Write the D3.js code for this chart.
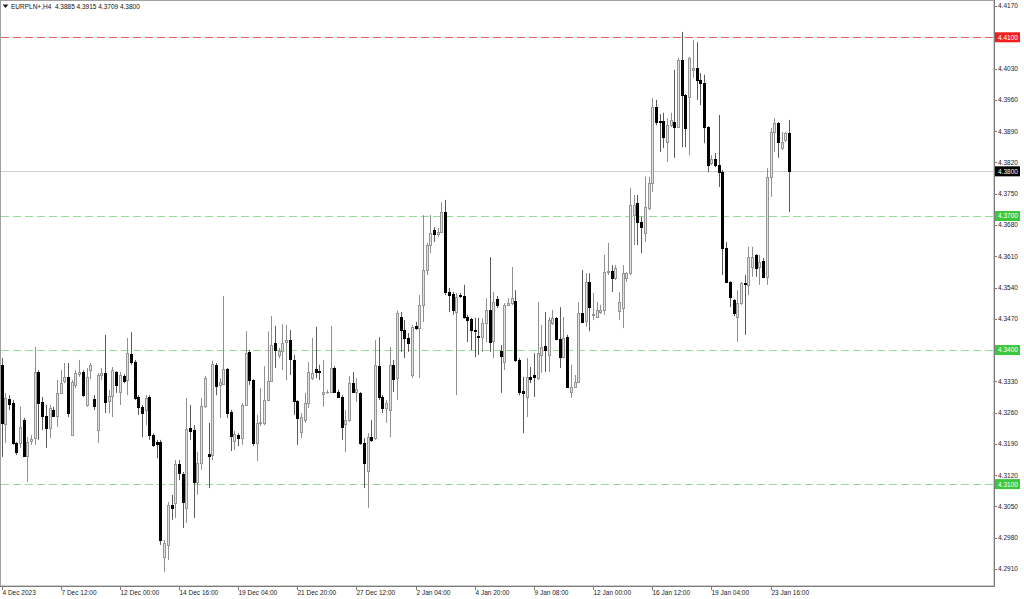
<!DOCTYPE html>
<html><head><meta charset="utf-8">
<script src="https://cdn.jsdelivr.net/npm/d3@7"></script>
<style>html,body{margin:0;padding:0;background:#fff;overflow:hidden}svg{display:block;font-family:"Liberation Sans",Arial,sans-serif}</style>
</head><body><svg id="c" width="1024" height="599"></svg>
<script>
const chartTitle = "EURPLN+,H4  4.3885 4.3915 4.3709 4.3800";
const opens = [
4.3367,4.3234,4.3290,4.3282,4.3192,4.3192,4.3243,4.3163,4.3196,4.3203,
4.3351,4.3284,4.3252,4.3226,4.3266,4.3252,4.3304,4.3331,4.3340,4.3210,
4.3322,4.3346,4.3351,4.3277,4.3355,4.3290,4.3221,4.3344,4.3349,4.3286,
4.3297,4.3351,4.3306,4.3342,4.3333,4.3391,4.3373,4.3295,4.3273,4.3266,
4.3295,4.3210,4.3194,4.3194,4.2937,4.2964,4.3053,4.3058,4.3145,4.3123,
4.3047,4.3226,4.3221,4.3105,4.3147,4.3275,4.3167,4.3165,4.3367,4.3322,
4.3324,4.3358,4.3261,4.3196,4.3210,4.3203,4.3277,4.3396,4.3333,4.3192,
4.3237,4.3237,4.3288,4.3331,4.3416,4.3389,4.3398,4.3418,4.3422,4.3378,
4.3286,4.3217,4.3243,4.3282,4.3337,4.3358,4.3353,4.3302,4.3306,4.3306,
4.3360,4.3306,4.3295,4.3234,4.3243,4.3326,4.3306,4.3304,4.3192,4.3129,
4.3205,4.3203,4.3364,4.3295,4.3270,4.3266,4.3367,4.3337,4.3474,4.3445,
4.3427,4.3344,4.3454,4.3449,4.3501,4.3579,4.3635,4.3669,4.3660,4.3664,
4.3709,4.3530,4.3525,4.3485,4.3523,4.3521,4.3474,4.3470,4.3445,4.3431,
4.3429,4.3461,4.3490,4.3420,4.3514,4.3398,4.3373,4.3501,4.3505,4.3510,
4.3378,4.3308,4.3295,4.3340,4.3344,4.3337,4.3389,4.3409,4.3389,4.3461,
4.3472,4.3425,4.3384,4.3429,4.3306,4.3317,4.3329,4.3483,4.3465,4.3552,
4.3479,4.3474,4.3485,4.3490,4.3575,4.3577,4.3561,4.3487,4.3494,4.3561,
4.3572,4.3702,4.3729,4.3687,4.3662,4.3718,4.3774,4.3944,4.3913,4.3913,
4.3866,4.3903,4.3910,4.3899,4.4049,4.3971,4.3967,4.4027,4.4031,4.4004,
4.3998,4.3899,4.3818,4.3827,4.3814,4.3798,4.3628,4.3552,4.3512,4.3474,
4.3505,4.3550,4.3546,4.3586,4.3613,4.3586,4.3599,4.3563,4.3787,4.3888,
4.3908,4.3852,4.3870,4.3885];
const highs = [
4.3382,4.3304,4.3299,4.3288,4.3194,4.3273,4.3248,4.3205,4.3210,4.3407,
4.3355,4.3295,4.3277,4.3277,4.3273,4.3333,4.3355,4.3371,4.3371,4.3333,
4.3355,4.3378,4.3355,4.3360,4.3371,4.3299,4.3349,4.3360,4.3434,4.3311,
4.3362,4.3353,4.3351,4.3346,4.3427,4.3440,4.3378,4.3299,4.3277,4.3299,
4.3299,4.3214,4.3199,4.3199,4.2975,4.3060,4.3076,4.3154,4.3154,4.3127,
4.3293,4.3277,4.3232,4.3172,4.3293,4.3342,4.3237,4.3376,4.3371,4.3337,
4.3521,4.3360,4.3266,4.3219,4.3214,4.3282,4.3442,4.3400,4.3335,4.3255,
4.3315,4.3364,4.3442,4.3476,4.3454,4.3405,4.3458,4.3456,4.3445,4.3389,
4.3288,4.3259,4.3304,4.3373,4.3427,4.3452,4.3367,4.3378,4.3311,4.3454,
4.3364,4.3311,4.3299,4.3266,4.3342,4.3351,4.3337,4.3306,4.3203,4.3214,
4.3243,4.3422,4.3429,4.3299,4.3288,4.3407,4.3378,4.3488,4.3485,4.3467,
4.3438,4.3456,4.3463,4.3523,4.3702,4.3640,4.3702,4.3675,4.3673,4.3731,
4.3736,4.3539,4.3530,4.3528,4.3528,4.3546,4.3479,4.3472,4.3472,4.3472,
4.3470,4.3516,4.3608,4.3530,4.3521,4.3411,4.3505,4.3516,4.3586,4.3534,
4.3382,4.3340,4.3382,4.3362,4.3393,4.3507,4.3456,4.3485,4.3474,4.3490,
4.3474,4.3496,4.3474,4.3434,4.3367,4.3344,4.3507,4.3579,4.3572,4.3572,
4.3528,4.3507,4.3501,4.3613,4.3640,4.3590,4.3590,4.3530,4.3590,4.3574,
4.3763,4.3747,4.3747,4.3698,4.3788,4.3788,4.3964,4.3960,4.3928,4.3931,
4.3919,4.3931,4.4027,4.4054,4.4112,4.3973,4.4056,4.4094,4.4089,4.4020,
4.4016,4.3901,4.3836,4.3841,4.3926,4.3803,4.3642,4.3554,4.3514,4.3534,
4.3552,4.3568,4.3631,4.3631,4.3615,4.3613,4.3606,4.3807,4.3897,4.3919,
4.3910,4.3888,4.3888,4.3915];
const lows = [
4.3161,4.3192,4.3266,4.3188,4.3165,4.3181,4.3161,4.3105,4.3188,4.3188,
4.3199,4.3221,4.3181,4.3203,4.3250,4.3228,4.3302,4.3326,4.3250,4.3208,
4.3315,4.3340,4.3295,4.3273,4.3335,4.3266,4.3192,4.3333,4.3259,4.3259,
4.3250,4.3304,4.3277,4.3326,4.3299,4.3367,4.3288,4.3255,4.3205,4.3232,
4.3199,4.3183,4.3158,4.2964,4.2903,4.2930,4.3020,4.3024,4.3109,4.3002,
4.3013,4.3199,4.3024,4.3076,4.3132,4.3270,4.3091,4.3154,4.3299,4.3248,
4.3322,4.3248,4.3174,4.3176,4.3185,4.3188,4.3275,4.3322,4.3185,4.3152,
4.3230,4.3232,4.3286,4.3329,4.3360,4.3382,4.3355,4.3333,4.3344,4.3255,
4.3188,4.3203,4.3237,4.3270,4.3333,4.3337,4.3333,4.3273,4.3302,4.3304,
4.3304,4.3293,4.3199,4.3172,4.3239,4.3304,4.3284,4.3188,4.3091,4.3047,
4.3194,4.3199,4.3288,4.3259,4.3237,4.3205,4.3306,4.3288,4.3396,4.3382,
4.3396,4.3337,4.3445,4.3337,4.3463,4.3568,4.3617,4.3642,4.3653,4.3662,
4.3523,4.3485,4.3479,4.3299,4.3516,4.3470,4.3418,4.3400,4.3384,4.3389,
4.3396,4.3418,4.3396,4.3382,4.3494,4.3304,4.3355,4.3499,4.3501,4.3373,
4.3299,4.3214,4.3250,4.3326,4.3295,4.3333,4.3349,4.3351,4.3351,4.3456,
4.3422,4.3360,4.3382,4.3315,4.3293,4.3315,4.3326,4.3461,4.3452,4.3442,
4.3467,4.3472,4.3481,4.3479,4.3568,4.3530,4.3557,4.3467,4.3449,4.3552,
4.3568,4.3635,4.3635,4.3617,4.3642,4.3713,4.3754,4.3903,4.3843,4.3852,
4.3821,4.3899,4.3830,4.3897,4.3854,4.3854,4.3836,4.4009,4.3960,4.3948,
4.3863,4.3798,4.3814,4.3809,4.3765,4.3568,4.3550,4.3496,4.3476,4.3418,
4.3501,4.3434,4.3523,4.3564,4.3564,4.3546,4.3561,4.3546,4.3743,4.3843,
4.3830,4.3848,4.3866,4.3709];
const closes = [
4.3237,4.3293,4.3279,4.3192,4.3172,4.3228,4.3163,4.3194,4.3201,4.3351,
4.3282,4.3252,4.3226,4.3270,4.3252,4.3304,4.3326,4.3340,4.3259,4.3329,
4.3349,4.3351,4.3299,4.3340,4.3367,4.3275,4.3344,4.3349,4.3284,4.3297,
4.3355,4.3322,4.3344,4.3331,4.3393,4.3373,4.3293,4.3273,4.3259,4.3293,
4.3210,4.3188,4.3190,4.2975,4.2968,4.3053,4.3047,4.3145,4.3125,4.3060,
4.3223,4.3219,4.3105,4.3147,4.3275,4.3337,4.3163,4.3369,4.3320,4.3329,
4.3358,4.3259,4.3207,4.3212,4.3203,4.3277,4.3393,4.3333,4.3192,4.3237,
4.3239,4.3288,4.3331,4.3411,4.3400,4.3398,4.3416,4.3422,4.3380,4.3286,
4.3248,4.3250,4.3282,4.3351,4.3349,4.3351,4.3351,4.3306,4.3307,4.3360,
4.3306,4.3295,4.3228,4.3243,4.3326,4.3306,4.3313,4.3192,4.3147,4.3205,
4.3199,4.3367,4.3295,4.3270,4.3282,4.3367,4.3335,4.3483,4.3445,4.3427,
4.3416,4.3452,4.3449,4.3501,4.3579,4.3635,4.3662,4.3660,4.3664,4.3709,
4.3530,4.3523,4.3490,4.3519,4.3521,4.3474,4.3467,4.3445,4.3443,4.3429,
4.3461,4.3490,4.3418,4.3508,4.3501,4.3387,4.3501,4.3505,4.3516,4.3378,
4.3306,4.3304,4.3340,4.3335,4.3340,4.3393,4.3407,4.3400,4.3467,4.3472,
4.3425,4.3384,4.3427,4.3317,4.3317,4.3329,4.3483,4.3463,4.3552,4.3496,
4.3480,4.3490,4.3490,4.3575,4.3577,4.3561,4.3583,4.3507,4.3572,4.3572,
4.3725,4.3725,4.3687,4.3675,4.3720,4.3774,4.3944,4.3910,4.3910,4.3877,
4.3903,4.3915,4.3899,4.4049,4.3971,4.3897,4.4054,4.4031,4.4004,4.3998,
4.3899,4.3814,4.3827,4.3814,4.3798,4.3628,4.3552,4.3519,4.3483,4.3505,
4.3550,4.3548,4.3608,4.3608,4.3584,4.3597,4.3563,4.3787,4.3888,4.3908,
4.3866,4.3866,4.3885,4.3800];
const priceTicks = [4.4170,4.4100,4.4030,4.3960,4.3890,4.3820,4.3750,4.3680,4.3610,4.3540,
  4.3470,4.3400,4.3330,4.3260,4.3190,4.3120,4.3050,4.2980,4.2910];
const timeLabels = ["4 Dec 2023","7 Dec 12:00","12 Dec 00:00","14 Dec 16:00","19 Dec 04:00",
  "21 Dec 20:00","27 Dec 12:00","2 Jan 04:00","4 Jan 20:00","9 Jan 08:00","12 Jan 00:00",
  "16 Jan 12:00","19 Jan 04:00","23 Jan 16:00"];
const timeLabelBars = [0,16,32,48,64,80,96,112,128,144,160,176,192,208];
const levelPrices = [4.4100,4.3700,4.3400,4.3100];
const levelColors = ["red","green","green","green"];
const lastPrice = closes[closes.length-1];

const plotR = 994, plotB = 586;
const svg = d3.select("#c");
const n = opens.length;
const x = d3.scaleLinear().domain([0, n-1]).range([1.5, 789]);
const y = d3.scaleLinear().domain([4.2910, 4.4170]).range([569, 6]);
const FS = 6.5;
const palette = {red:{line:"#e86060", box:"#f41f1f"}, green:{line:"#95dc95", box:"#3cc83c"}};

// frame
svg.append("rect").attr("x",0.5).attr("y",0.5).attr("width",plotR-0.5).attr("height",plotB-0.5)
  .attr("fill","#fff").attr("stroke","#a0a0a0");
svg.append("line").attr("x1",plotR+0.5).attr("x2",plotR+0.5).attr("y1",0).attr("y2",plotB+0.5).attr("stroke","#7a7a7a");
svg.append("line").attr("x1",0).attr("x2",plotR+0.5).attr("y1",plotB+0.5).attr("y2",plotB+0.5).attr("stroke","#7a7a7a");

// level lines
levelPrices.forEach((p,k)=>{
  const yy = Math.round(y(p))+0.5;
  svg.append("line").attr("x1",1).attr("x2",plotR).attr("y1",yy).attr("y2",yy)
    .attr("stroke",palette[levelColors[k]].line).attr("stroke-width",1).attr("stroke-dasharray","8,4");
});
// last price line
{
  const yy = Math.round(y(lastPrice))+0.5;
  svg.append("line").attr("x1",1).attr("x2",plotR).attr("y1",yy).attr("y2",yy).attr("stroke","#cfcfcf");
}

// candles
const idx = d3.range(n);
const g = svg.append("g");
g.selectAll("line.w").data(idx).join("line").attr("class","w")
  .attr("x1",i=>Math.round(x(i))+0.5).attr("x2",i=>Math.round(x(i))+0.5)
  .attr("y1",i=>y(highs[i])).attr("y2",i=>y(lows[i]))
  .attr("stroke",i=>closes[i]>=opens[i]?"#909090":"#5a5a5a").attr("stroke-width",1);
g.selectAll("rect.b").data(idx).join("rect").attr("class","b")
  .attr("x",i=>Math.round(x(i))-0.5).attr("width",2)
  .attr("y",i=>Math.round(y(Math.max(opens[i],closes[i])))+0.5)
  .attr("height",i=>Math.max(0.01, Math.round(y(Math.min(opens[i],closes[i]))) - Math.round(y(Math.max(opens[i],closes[i])))))
  .attr("fill",i=>closes[i]>=opens[i]?"#e2e2e2":"#000000")
  .attr("stroke",i=>closes[i]>=opens[i]?"#969696":"#000000").attr("stroke-width",1);

// price axis
const ax = svg.append("g");
priceTicks.forEach(p=>{
  const yy = Math.round(y(p))+0.5;
  ax.append("line").attr("x1",plotR).attr("x2",plotR+3).attr("y1",yy).attr("y2",yy).attr("stroke","#7a7a7a");
  ax.append("text").attr("x",998).attr("y",y(p)+2.4).attr("font-size",FS).attr("fill","#222").text(p.toFixed(4));
});
function box(p, col){
  const yy = y(p);
  ax.append("rect").attr("x",995).attr("y",yy-5).attr("width",25).attr("height",10).attr("fill",col);
  ax.append("text").attr("x",998).attr("y",yy+2.4).attr("font-size",FS).attr("fill","#fff").text(p.toFixed(4));
}
levelPrices.forEach((p,k)=>box(p, palette[levelColors[k]].box));
box(lastPrice, "#000");

// time axis
timeLabels.forEach((t,k)=>{
  const xx = Math.round(x(timeLabelBars[k]))+0.5;
  svg.append("line").attr("x1",xx).attr("x2",xx).attr("y1",plotB).attr("y2",plotB+4).attr("stroke","#7a7a7a");
  svg.append("text").attr("x",xx).attr("y",595).attr("font-size",FS).attr("fill","#222").text(t);
});

// title
svg.append("path").attr("d","M2.5,4.5 L8.5,4.5 L5.5,8 Z").attr("fill","#222");
svg.append("text").attr("x",11).attr("y",9).attr("font-size",FS).attr("fill","#111")
  .attr("xml:space","preserve").style("white-space","pre").text(chartTitle);
</script></body></html>
